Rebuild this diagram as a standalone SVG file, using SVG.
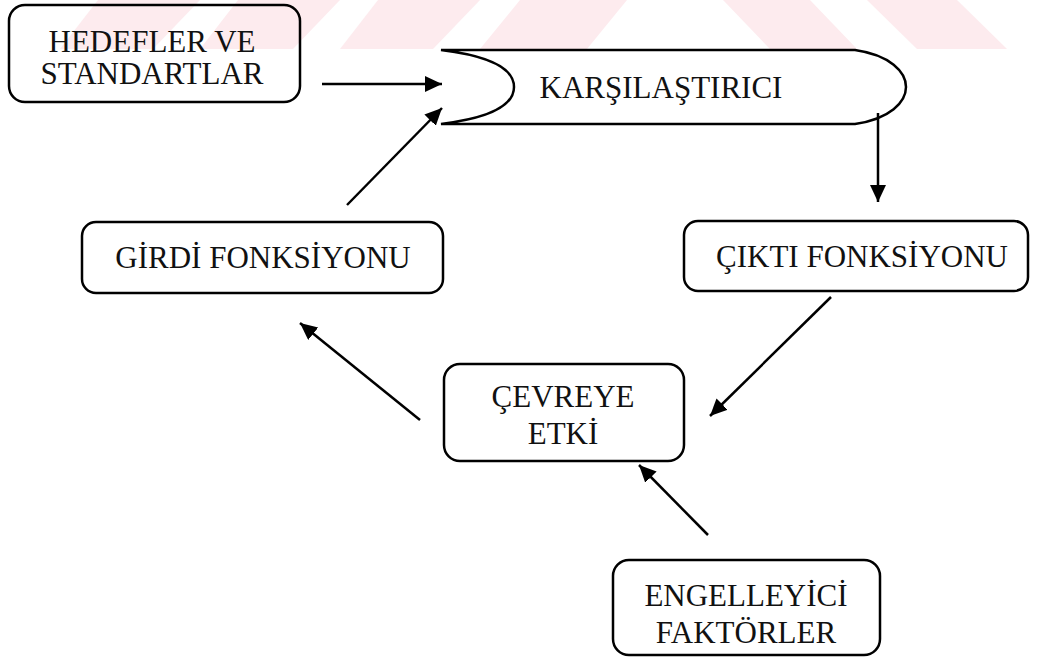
<svg xmlns="http://www.w3.org/2000/svg" width="1043" height="657" viewBox="0 0 1043 657">
<style>
.box{fill:none;stroke:#000;stroke-width:2.5}
.lbl{font-family:"Liberation Serif","Times New Roman",serif;font-size:31px;fill:#111;text-anchor:middle}
.con{stroke:#000;stroke-width:2.5;fill:none}
.wm{fill:#fdebee}
</style>
<defs>
<marker id="ah" markerUnits="userSpaceOnUse" markerWidth="20" markerHeight="18" refX="17" refY="8" orient="auto">
<path d="M0,0 L17,8 L0,16 Z" fill="#000"/>
</marker>
</defs>
<rect width="1043" height="657" fill="#fff"/>
<g id="watermark">
<polygon class="wm" points="60,49 153,49 200,0 98,0"/>
<polygon class="wm" points="200,49 293,49 340,0 238,0"/>
<polygon class="wm" points="340,49 433,49 480,0 378,0"/>
<polygon class="wm" points="480,49 587,49 627,0 520,0"/>
<polygon class="wm" points="770,49 857,49 810,0 723,0"/>
<polygon class="wm" points="917,49 1007,49 957,0 867,0"/>
</g>
<g id="connectors">
<line class="con" x1="322" y1="84" x2="442" y2="84" marker-end="url(#ah)"/>
<line class="con" x1="347" y1="205" x2="442" y2="108" marker-end="url(#ah)"/>
<line class="con" x1="878" y1="113" x2="878" y2="202" marker-end="url(#ah)"/>
<line class="con" x1="831" y1="297" x2="710" y2="416" marker-end="url(#ah)"/>
<line class="con" x1="420" y1="420" x2="300" y2="323" marker-end="url(#ah)"/>
<line class="con" x1="708" y1="535" x2="639" y2="465" marker-end="url(#ah)"/>
</g>
<g id="hedefler">
<rect class="box" x="9" y="5" width="291" height="97" rx="16"/>
<text class="lbl" x="152" y="52">HEDEFLER VE</text>
<text class="lbl" x="152" y="84">STANDARTLAR</text>
</g>
<g id="karsilastirici">
<path class="box" d="M441,50 L855,50 C890,55 906,72 906,87 C906,102 890,119 855,124 L441,124 C490,118 514,105 514,87 C514,69 490,56 441,50 Z"/>
<text class="lbl" x="661" y="98">KARŞILAŞTIRICI</text>
</g>
<g id="girdi">
<rect class="box" x="82" y="222" width="361" height="71" rx="14"/>
<text class="lbl" x="263" y="268">GİRDİ FONKSİYONU</text>
</g>
<g id="cikti">
<rect class="box" x="684" y="221" width="344" height="70" rx="14"/>
<text class="lbl" x="862" y="267">ÇIKTI FONKSİYONU</text>
</g>
<g id="cevreye">
<rect class="box" x="444" y="364" width="240" height="97" rx="16"/>
<text class="lbl" x="563" y="407">ÇEVREYE</text>
<text class="lbl" x="563" y="444">ETKİ</text>
</g>
<g id="engelleyici">
<rect class="box" x="613" y="560" width="267" height="95" rx="16"/>
<text class="lbl" x="746" y="606">ENGELLEYİCİ</text>
<text class="lbl" x="746" y="643">FAKTÖRLER</text>
</g>
</svg>
